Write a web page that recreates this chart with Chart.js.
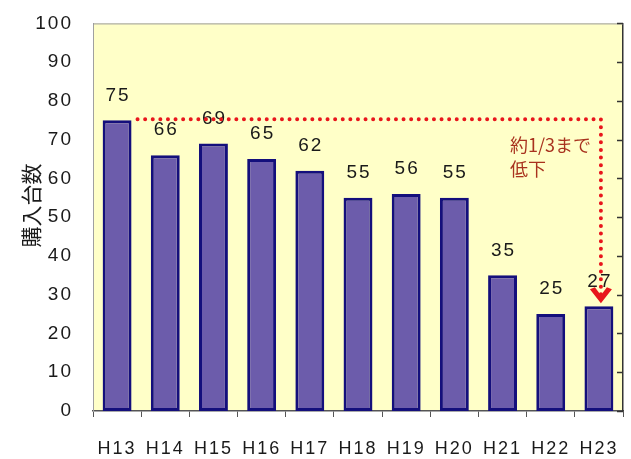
<!DOCTYPE html>
<html>
<head>
<meta charset="utf-8">
<script src="https://cdn.jsdelivr.net/npm/chart.js@4"></script>
<style>
  html, body { margin: 0; padding: 0; background: #ffffff; }
  #wrap { width: 631px; height: 459px; }
</style>
</head>
<body>
<div id="wrap"><canvas id="c" width="631" height="459"></canvas></div>
<script>
// 年度別の購入台数
const years = ['H13', 'H14', 'H15', 'H16', 'H17', 'H18', 'H19', 'H20', 'H21', 'H22', 'H23'];
const units = [75, 66, 69, 65, 62, 55, 56, 55, 35, 25, 27];
const yTicks = [0, 10, 20, 30, 40, 50, 60, 70, 80, 90, 100];
const axisTitle = '購入台数';
const noteLines = ['約1/3まで', '低下'];

const LATIN = '"Liberation Sans", Arial, sans-serif';
const CJK = '"Noto Sans CJK JP", "Liberation Sans", sans-serif';

// 描画エリアの背景と枠線（上辺・右辺の内向き目盛り）、縦軸タイトル
const framePlugin = {
  id: 'framePlugin',
  beforeDraw(chart) {
    const { ctx, chartArea: a } = chart;
    // 数字ラベルはやや字間を広げて描く
    ctx.letterSpacing = '2px';
    ctx.save();
    ctx.fillStyle = '#FFFFC8';
    ctx.fillRect(a.left, a.top, a.right - a.left, a.bottom - a.top);
    ctx.restore();
  },
  afterDraw(chart) {
    const { ctx, chartArea: a } = chart;
    const y2 = chart.scales.y2;
    ctx.save();
    ctx.strokeStyle = '#9a9a9a';
    ctx.lineWidth = 1;
    ctx.beginPath();
    ctx.moveTo(a.left, a.top + 0.5);
    ctx.lineTo(a.right, a.top + 0.5);
    ctx.stroke();
    ctx.strokeStyle = '#333333';
    ctx.lineWidth = 1.5;
    yTicks.forEach(v => {
      const py = Math.round(y2.getPixelForValue(v)) + 0.5;
      ctx.beginPath();
      ctx.moveTo(a.right, py);
      ctx.lineTo(a.right - 6, py);
      ctx.stroke();
    });
    ctx.restore();

    ctx.save();
    ctx.letterSpacing = '0px';
    ctx.fillStyle = '#1a1a1a';
    ctx.font = '21px ' + CJK;
    ctx.textAlign = 'center';
    ctx.textBaseline = 'middle';
    ctx.translate(31, chart.scales.y.getPixelForValue(53));
    ctx.rotate(-Math.PI / 2);
    ctx.fillText(axisTitle, 0, 0);
    ctx.restore();
    ctx.letterSpacing = '0px';
  }
};

// 棒の上に値を表示
const valueLabels = {
  id: 'valueLabels',
  afterDatasetsDraw(chart) {
    const { ctx } = chart;
    const meta = chart.getDatasetMeta(0);
    ctx.save();
    ctx.letterSpacing = '2px';
    ctx.fillStyle = '#1a1a1a';
    ctx.font = '19px ' + LATIN;
    ctx.textAlign = 'center';
    ctx.textBaseline = 'middle';
    meta.data.forEach((bar, i) => {
      ctx.fillText(String(units[i]), bar.x + 1, bar.y - 25);
    });
    ctx.restore();
  }
};

// H13からH23への減少を示す点線の矢印と注記
const dropArrow = {
  id: 'dropArrow',
  afterDatasetsDraw(chart) {
    const { ctx } = chart;
    const meta = chart.getDatasetMeta(0);
    const first = meta.data[0];
    const last = meta.data[meta.data.length - 1];
    const y = chart.scales.y;
    const yStart = y.getPixelForValue(units[0]) - 1;
    const yEnd = y.getPixelForValue(units[units.length - 1]);
    const xStart = first.x + first.width / 2 + 6;
    const xEnd = last.x + 2;
    ctx.save();
    ctx.strokeStyle = '#E8161C';
    ctx.lineWidth = 4;
    ctx.lineCap = 'round';
    ctx.setLineDash([0, 7.6]);
    ctx.beginPath();
    ctx.moveTo(xStart, yStart);
    ctx.lineTo(xEnd, yStart);
    ctx.lineTo(xEnd, yEnd - 8);
    ctx.stroke();
    ctx.setLineDash([]);
    ctx.lineCap = 'butt';
    ctx.lineJoin = 'miter';
    ctx.fillStyle = '#E8161C';
    ctx.beginPath();
    ctx.moveTo(xEnd - 11, yEnd - 17);
    ctx.lineTo(xEnd, yEnd - 3);
    ctx.lineTo(xEnd + 11, yEnd - 17);
    ctx.lineTo(xEnd + 6, yEnd - 19);
    ctx.lineTo(xEnd, yEnd - 11);
    ctx.lineTo(xEnd - 6, yEnd - 19);
    ctx.closePath();
    ctx.fill();

    ctx.letterSpacing = '0px';
    ctx.fillStyle = '#A8321E';
    ctx.font = '18px ' + CJK;
    ctx.textAlign = 'left';
    ctx.textBaseline = 'middle';
    const tx = xEnd - 91;
    const ty = y.getPixelForValue(68.5);
    noteLines.forEach((t, i) => ctx.fillText(t, tx, ty + i * 24));
    ctx.restore();
  }
};

new Chart(document.getElementById('c'), {
  type: 'bar',
  data: {
    labels: years,
    datasets: [{
      data: units,
      backgroundColor: '#6C5CAB',
      borderColor: '#140F7C',
      borderWidth: 3,
      borderSkipped: false,
      categoryPercentage: 1,
      barPercentage: 0.6
    }]
  },
  options: {
    responsive: false,
    devicePixelRatio: 1,
    animation: false,
    layout: { padding: { top: 16, left: 0, right: 0, bottom: 0 } },
    plugins: {
      legend: { display: false },
      tooltip: { enabled: false }
    },
    scales: {
      x: {
        grid: {
          display: true,
          offset: true,
          drawOnChartArea: false,
          drawTicks: true,
          tickLength: 6,
          color: '#555555',
          lineWidth: 1
        },
        border: { display: true, color: '#555555', width: 1.5 },
        ticks: {
          color: '#1a1a1a',
          font: { family: LATIN, size: 18 },
          padding: 21,
          maxRotation: 0
        },
        afterFit(scale) {
          scale.height = 48;
          scale.paddingLeft = 0;
          scale.paddingRight = 0;
        }
      },
      y: {
        position: 'left',
        min: 0,
        max: 100,
        grid: { display: false },
        border: { display: true, color: '#a0a0a0', width: 1 },
        ticks: {
          stepSize: 10,
          color: '#1a1a1a',
          font: { family: LATIN, size: 19 },
          padding: 12
        },
        afterFit(scale) { scale.width = 93; }
      },
      y2: {
        position: 'right',
        min: 0,
        max: 100,
        grid: { display: false },
        border: { display: true, color: '#333333', width: 1.5 },
        ticks: { display: false, stepSize: 10 },
        afterFit(scale) { scale.width = 8; }
      }
    }
  },
  plugins: [framePlugin, valueLabels, dropArrow]
});
</script>
</body>
</html>
